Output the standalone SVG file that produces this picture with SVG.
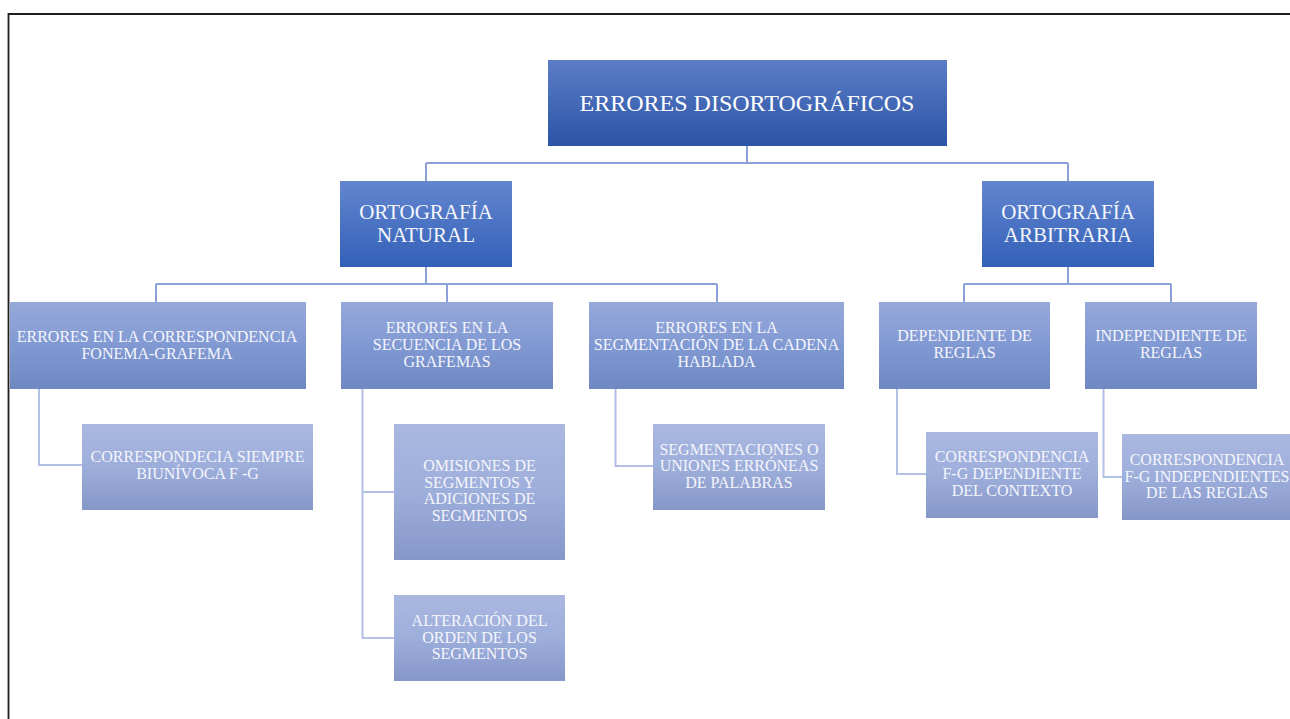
<svg xmlns="http://www.w3.org/2000/svg" width="1290" height="719" viewBox="0 0 1290 719">
<defs>
<linearGradient id="g1" x1="0" y1="0" x2="0" y2="1"><stop offset="0" stop-color="#5B7DC6"/><stop offset="1" stop-color="#2B54A6"/></linearGradient>
<linearGradient id="g2" x1="0" y1="0" x2="0" y2="1"><stop offset="0" stop-color="#6386CF"/><stop offset="1" stop-color="#3360B8"/></linearGradient>
<linearGradient id="g3" x1="0" y1="0" x2="0" y2="1"><stop offset="0" stop-color="#96A9D9"/><stop offset="0.5" stop-color="#8199D3"/><stop offset="1" stop-color="#6F88C2"/></linearGradient>
<linearGradient id="g4" x1="0" y1="0" x2="0" y2="1"><stop offset="0" stop-color="#AAB8E0"/><stop offset="0.5" stop-color="#9EAEDB"/><stop offset="1" stop-color="#8596C9"/></linearGradient>
</defs>
<style>
text{font-family:"Liberation Serif","Times New Roman",serif;text-anchor:middle;fill:#F4F6FB}
.t1{font-size:24px;fill:#FFFFFF}
.t2{font-size:21px;fill:#F4F6FB}
.t3{font-size:16px}
.l3{fill:url(#g3)}
.l4{fill:url(#g4)}
.c1{fill:none;stroke:#8EA0D9;stroke-width:2}
.c2{fill:none;stroke:#B3C0E6;stroke-width:2}
</style>
<rect x="0" y="0" width="1290" height="719" fill="#FFFFFF"/>
<path d="M8.5,719 V14 H1290" fill="none" stroke="#1E1E1E" stroke-width="1.8"/>
<g id="connectors">
<path class="c1" d="M747,146 V163 M426,163 H1068 M426,163 V181 M1068,163 V181"/>
<path class="c1" d="M426,267 V284 M156,284 H717 M156,284 V302 M447,284 V302 M717,284 V302"/>
<path class="c1" d="M1068,267 V284 M964,284 H1171 M964,284 V302 M1171,284 V302"/>
<path class="c2" d="M39,389 V465 H82"/>
<path class="c2" d="M362.5,389 V638 H394 M362.5,492 H394"/>
<path class="c2" d="M615.5,389 V466 H653"/>
<path class="c2" d="M897,389 V474 H926"/>
<path class="c2" d="M1103.5,389 V477 H1122"/>
</g>
<g id="root">
<rect x="548" y="60" width="399" height="86" fill="url(#g1)"/>
<text class="t1" x="747" y="111">ERRORES DISORTOGRÁFICOS</text>
</g>
<g id="natural">
<rect x="340" y="181" width="172" height="86" fill="url(#g2)"/>
<text class="t2" x="426" y="219">ORTOGRAFÍA</text>
<text class="t2" x="426" y="242">NATURAL</text>
</g>
<g id="arbitraria">
<rect x="982" y="181" width="172" height="86" fill="url(#g2)"/>
<text class="t2" x="1068" y="219">ORTOGRAFÍA</text>
<text class="t2" x="1068" y="242">ARBITRARIA</text>
</g>
<g id="fonema">
<rect class="l3" x="10" y="302" width="296" height="87"/>
<text class="t3" x="157" y="342">ERRORES EN LA CORRESPONDENCIA</text>
<text class="t3" x="157" y="358.5">FONEMA-GRAFEMA</text>
</g>
<g id="secuencia">
<rect class="l3" x="341" y="302" width="212" height="87"/>
<text class="t3" x="447" y="333.3">ERRORES EN LA</text>
<text class="t3" x="447" y="350">SECUENCIA DE LOS</text>
<text class="t3" x="447" y="366.5">GRAFEMAS</text>
</g>
<g id="segmentacion">
<rect class="l3" x="589" y="302" width="255" height="87"/>
<text class="t3" x="716.5" y="333.3">ERRORES EN LA</text>
<text class="t3" x="716.5" y="350">SEGMENTACIÓN DE LA CADENA</text>
<text class="t3" x="716.5" y="366.5">HABLADA</text>
</g>
<g id="dependiente">
<rect class="l3" x="879" y="302" width="171" height="87"/>
<text class="t3" x="964.5" y="341.3">DEPENDIENTE DE</text>
<text class="t3" x="964.5" y="358.3">REGLAS</text>
</g>
<g id="independiente">
<rect class="l3" x="1085" y="302" width="172" height="87"/>
<text class="t3" x="1171" y="341.3">INDEPENDIENTE DE</text>
<text class="t3" x="1171" y="358.3">REGLAS</text>
</g>
<g id="biunivoca">
<rect class="l4" x="82" y="424" width="231" height="86"/>
<text class="t3" x="197.5" y="462.3">CORRESPONDECIA SIEMPRE</text>
<text class="t3" x="197.5" y="479.3">BIUNÍVOCA F -G</text>
</g>
<g id="omisiones">
<rect class="l4" x="394" y="424" width="171" height="136"/>
<text class="t3" x="479.5" y="471">OMISIONES DE</text>
<text class="t3" x="479.5" y="487.7">SEGMENTOS Y</text>
<text class="t3" x="479.5" y="504.3">ADICIONES DE</text>
<text class="t3" x="479.5" y="521">SEGMENTOS</text>
</g>
<g id="alteracion">
<rect class="l4" x="394" y="595" width="171" height="86"/>
<text class="t3" x="479.5" y="626.3">ALTERACIÓN DEL</text>
<text class="t3" x="479.5" y="643">ORDEN DE LOS</text>
<text class="t3" x="479.5" y="659.3">SEGMENTOS</text>
</g>
<g id="uniones">
<rect class="l4" x="653" y="424" width="172" height="86"/>
<text class="t3" x="739" y="454.7">SEGMENTACIONES O</text>
<text class="t3" x="739" y="471.3">UNIONES ERRÓNEAS</text>
<text class="t3" x="739" y="488">DE PALABRAS</text>
</g>
<g id="contexto">
<rect class="l4" x="926" y="432" width="172" height="86"/>
<text class="t3" x="1012" y="462.3">CORRESPONDENCIA</text>
<text class="t3" x="1012" y="479.3">F-G DEPENDIENTE</text>
<text class="t3" x="1012" y="496.3">DEL CONTEXTO</text>
</g>
<g id="independientes-reglas">
<rect class="l4" x="1122" y="434" width="172" height="86"/>
<text class="t3" x="1207" y="465">CORRESPONDENCIA</text>
<text class="t3" x="1207" y="481.7">F-G INDEPENDIENTES</text>
<text class="t3" x="1207" y="498">DE LAS REGLAS</text>
</g>
</svg>
